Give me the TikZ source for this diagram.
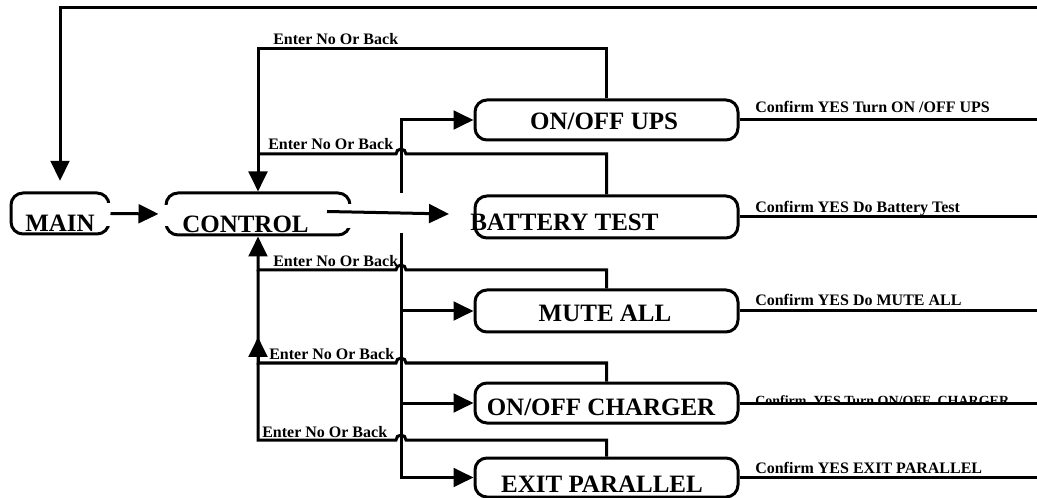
\documentclass[tikz,border=0pt]{standalone}
\usepackage{fontspec}
\setmainfont{Liberation Serif}
\usetikzlibrary{arrows.meta}
\tikzset{
  ln/.style={line width=2.25pt},
  tipped/.style={-{Triangle[length=15pt,width=14pt]}},
  box/.style={draw, line width=2.25pt, rounded corners=9pt, inner sep=0pt, minimum width=263*0.75pt},
  big/.style={font=\bfseries\fontsize{18.75}{20}\selectfont, inner sep=0pt, anchor=base},
  lab/.style={font=\bfseries\fontsize{12}{13}\selectfont, inner sep=0pt, anchor=base west},
}
\begin{document}
\begin{tikzpicture}[x=0.75pt,y=-0.75pt]
\useasboundingbox (0,0) rectangle (1037,498);
% boxes
\node[box, minimum width=98*0.75pt, minimum height=41*0.75pt] (main) at (60,213.5) {};
\node[box, minimum width=184*0.75pt, minimum height=42*0.75pt] (control) at (258,214) {};
\node[box, minimum height=40*0.75pt] (ups) at (606.5,120) {};
\node[box, minimum height=42*0.75pt] (bat) at (606.5,217) {};
\node[box, minimum height=42*0.75pt] (mute) at (606.5,311) {};
\node[box, minimum height=40*0.75pt] (chg) at (606.5,403) {};
\node[box, minimum height=39*0.75pt] (exit) at (606.5,477.5) {};
% open sides of MAIN and CONTROL
\fill[white] (103,203) rectangle (115,226);
\fill[white] (160,205) rectangle (172,226);
\fill[white] (344,204) rectangle (357,228);
% box texts
\node[big, anchor=base west] (tmain) at (25,232) {MAIN};
\node[big, anchor=base west] (tcontrol) at (182,233) {CONTROL};
\node[big] (tups) at (604,130) {ON/OFF UPS};
\node[big, anchor=base west] (tbat) at (470,231) {BATTERY TEST};
\node[big] (tmute) at (605,322) {MUTE ALL};
\node[big] (tchg) at (601,415) {ON/OFF CHARGER};
\node[big] (texit) at (602,492) {EXIT PARALLEL};
% main flow
\draw[ln,tipped,shorten >=8pt] (1040,8) -| (main.north);
\draw[ln,tipped,shorten >=4.5pt] (main.east) -- (control.west);
\coordinate (cs) at (327,211.5);
\coordinate (ce) at (449,214);
\draw[ln,tipped] (cs) -- (ce);
% bus
\coordinate (bus) at (401,0);
\draw[ln,tipped] (401,193) -- (bus |- ups.west) -- (ups.west);
\draw[ln,tipped] (401,233) -- (bus |- exit.west) -- (exit.west);
\draw[ln,tipped] (bus |- mute.west) -- (mute.west);
\draw[ln,tipped] (bus |- chg.west) -- (chg.west);
% feedback lines
\draw[ln,tipped] (ups.north) -- (606.5,49) -- (258,49) -- (control.north);
\draw[ln] (bat.north) -- (606.5,154) -- (406,154) arc[start angle=0,end angle=180,radius=3.75pt] -- (258,154);
\draw[ln,tipped] (mute.north) -- (606.5,270) -- (406,270) arc[start angle=0,end angle=180,radius=3.75pt] -- (258,270) -- (control.south);
\draw[ln] (chg.north) -- (606.5,363) -- (406,363) arc[start angle=0,end angle=180,radius=3.75pt] -- (258,363) -- (258,270);
\draw[ln,tipped] (258,363) -- (258,337);
\draw[ln] (exit.north) -- (606.5,440) -- (406,440) arc[start angle=0,end angle=180,radius=3.75pt] -- (258,440) -- (258,363);
\node[lab] (l1) at (273,45) {Enter No Or Back};
\node[lab] (l2) at (268,150) {Enter No Or Back};
\node[lab] (l3) at (273,267) {Enter No Or Back};
\node[lab] (l4) at (269,359) {Enter No Or Back};
\node[lab] (l5) at (262,437) {Enter No Or Back};
% outputs
\draw[ln] (ups.east) -- (1040,120);
\draw[ln] (bat.east) -- (1040,217);
\draw[ln] (mute.east) -- (1040,311);
\draw[ln] (chg.east) -- (1040,403);
\draw[ln] (exit.east) -- (1040,477.5);
\node[lab] (c1) at (755,113) {Confirm YES Turn ON /OFF UPS};
\node[lab] (c2) at (755,213) {Confirm YES Do Battery Test};
\node[lab] (c3) at (755,306) {Confirm YES Do MUTE ALL};
\begin{scope}
\clip (740,380) rectangle (1037,401);
\node[lab, font=\bfseries\fontsize{10.5}{12}\selectfont] (c4) at (755,405) {Confirm\ \ YES Turn ON/OFF\ \ CHARGER};
\end{scope}
\node[lab] (c5) at (755,473) {Confirm YES EXIT PARALLEL};
\end{tikzpicture}
\end{document}
